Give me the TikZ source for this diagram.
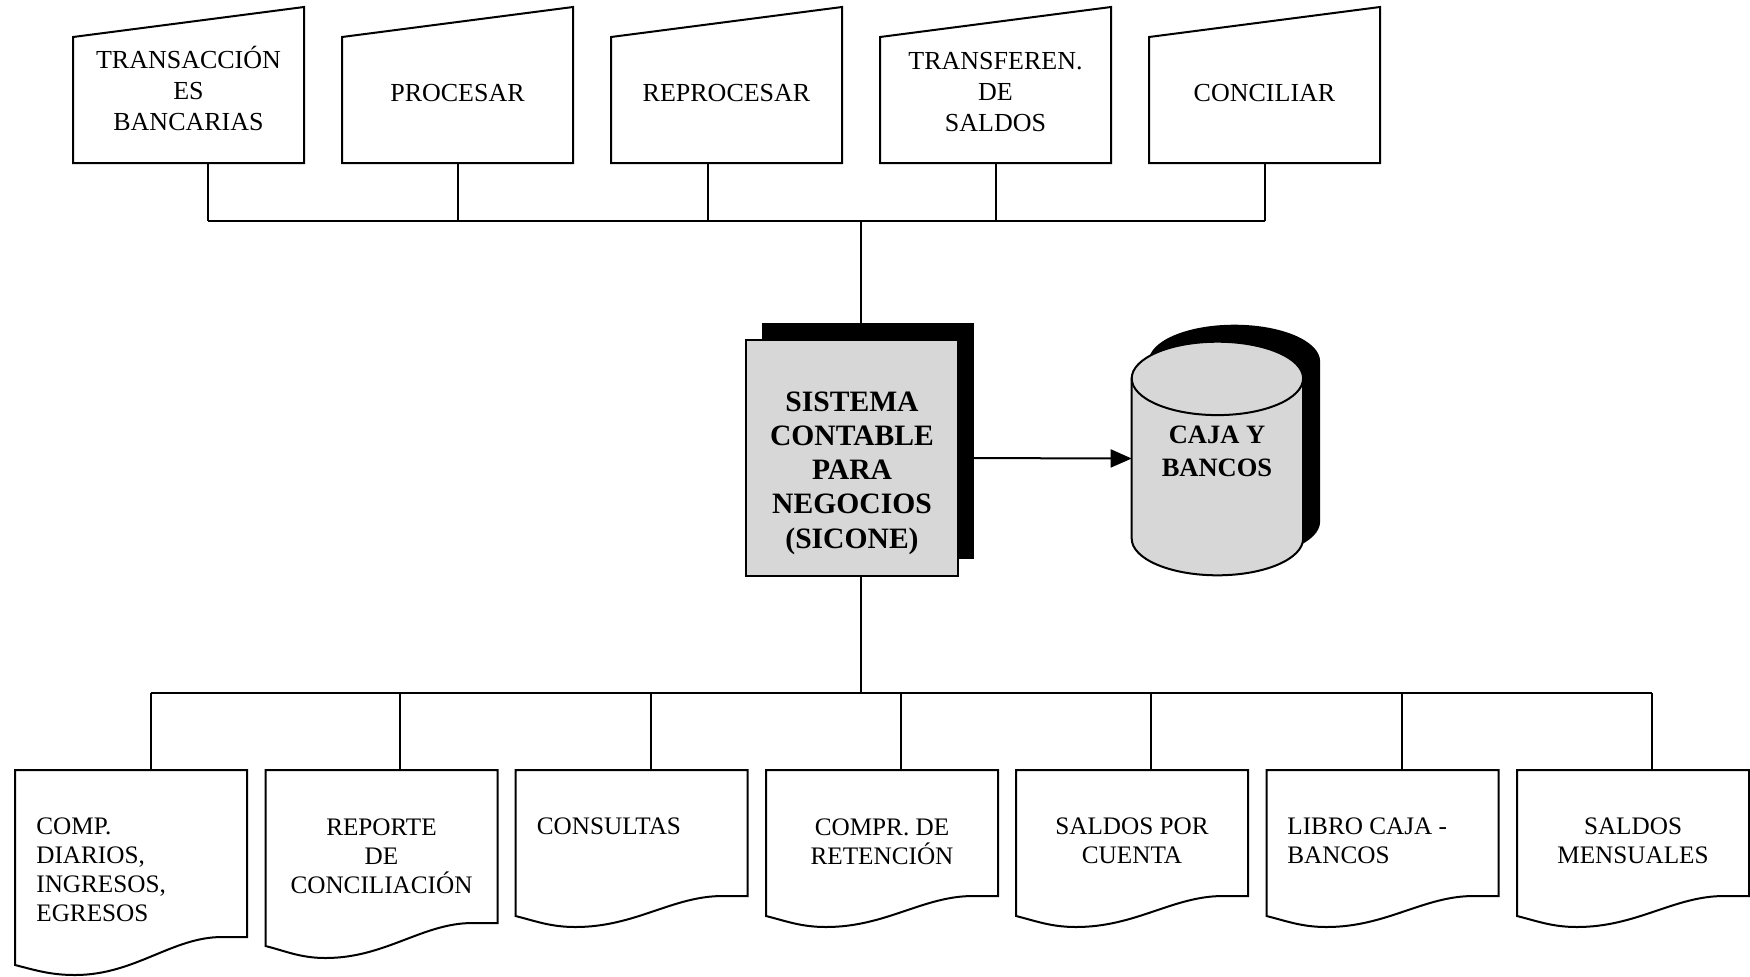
\documentclass[tikz,border=0pt]{standalone}
\usepackage{fontspec}
\setmainfont{Liberation Serif}
\usetikzlibrary{arrows.meta,shadows,calc}
\definecolor{boxgray}{RGB}{215,215,215}
\newcommand\mymanualbox[5]{% name, x centre, x of link, text y, text
  \node[topbox] (#1) at (#2,85) {};
  \draw[outline] (#1.south west) -- (#1.south east) -- (#1.north east) -- ($(#1.north west)+(0,30)$) -- cycle;
  \node[toptext] (#1t) at (#2,#4) {#5};
  \coordinate (#1b) at (#3,221);
  \draw[link] (#1.south -| #1b) -- (#1b);
}
\newcommand\mydocbox[6]{% name, x centre, body height, left drop, min drop, x of link
  \node[docbox, minimum height=#3*0.5pt] (#1) at (#2,{770+#3/2}) {};
  \draw[outline] (#1.north west) -- (#1.north east) -- (#1.south east) -- ++(-25,0)
     .. controls +(-50,0) and +(60,0) .. ++(-147,#5)
     .. controls +(-25,0) and +(20,5) .. ++(-60,{#4-#5})
     -- cycle;
  \coordinate (#1b) at (#6,693);
  \draw[link] (#1b) -- (#1b |- #1.north);
}
\begin{document}
\begin{tikzpicture}[x=0.5pt,y=-0.5pt,
  outline/.style={draw=black, line width=1pt, line join=miter},
  link/.style={draw=black, line width=1pt},
  inv/.style={inner sep=0pt, outer sep=0pt, draw=none},
  topbox/.style={inv, minimum width=115.5pt, minimum height=78pt},
  docbox/.style={inv, minimum width=116pt},
  toptext/.style={align=center, inner sep=0pt, font=\fontsize{13}{15.5}\selectfont},
  doctext/.style={inner sep=0pt, font=\fontsize{12.6}{14.5}\selectfont},
  boldtext/.style={align=center, inner sep=0pt},
  sicbox/.style={draw=black, line width=1pt, fill=boxgray, inner sep=0pt, outer sep=0pt,
    minimum width=106pt, minimum height=118pt,
    drop shadow={fill=black, opacity=1, shadow xshift=8pt, shadow yshift=8.5pt}},
  arrowline/.style={draw=black, line width=1pt, -{Triangle[length=10.5pt,width=9pt]}}
]
\useasboundingbox (0,0) rectangle (1750,976);

% ---- top manual inputs ----
\mymanualbox{t1}{188.5}{208}{88.5}{TRANSACCIÓN\\ES\\BANCARIAS}
\mymanualbox{t2}{457.5}{457.5}{93}{PROCESAR}
\mymanualbox{t3}{726.5}{707.6}{93}{REPROCESAR}
\mymanualbox{t4}{995.5}{995.5}{92}{TRANSFEREN.\\DE\\SALDOS}
\mymanualbox{t5}{1264.5}{1264.5}{93}{CONCILIAR}
\coordinate (tbus) at (861,221);
\draw[link] (t1b) -- (t5b);

% ---- central system ----
\node[sicbox] (sic) at (852,458) {};
\node[boldtext, font=\bfseries\fontsize{14.8}{17.1}\selectfont] (sict) at (852,473)
  {SISTEMA\\CONTABLE\\PARA\\NEGOCIOS\\(SICONE)};
\draw[link] (tbus) -- (tbus |- sic.north);

% ---- database cylinder ----
\node[inv, minimum width=85.7pt, minimum height=116.8pt] (cyl) at (1217.4,458.5) {};
\begin{scope}[shift={(17,-17)}]
  \fill[black] (1131.7,378.4) -- (1131.7,538.6)
    arc[start angle=180,end angle=0,x radius=85.7,y radius=36.7]
    -- (1303.1,378.4)
    arc[start angle=0,end angle=-180,x radius=85.7,y radius=36.7] -- cycle;
\end{scope}
\draw[outline, fill=boxgray] (1131.7,378.4) -- (1131.7,538.6)
    arc[start angle=180,end angle=0,x radius=85.7,y radius=36.7]
    -- (1303.1,378.4)
    arc[start angle=0,end angle=-180,x radius=85.7,y radius=36.7] -- cycle;
\draw[outline] (1131.7,378.4) arc[start angle=180,end angle=0,x radius=85.7,y radius=36.7];
\node[boldtext, font=\bfseries\fontsize{13.25}{16.5}\selectfont] (cylt) at (1217,451.5)
  {CAJA Y\\BANCOS};

\draw[arrowline] (sic.east) -- (cyl.west);

% ---- output documents ----
\mydocbox{d1}{131}{167}{28}{38}{150.5}
\mydocbox{d2}{381.5}{153}{23}{35}{400}
\mydocbox{d3}{631.5}{126}{20}{31}{650.5}
\mydocbox{d4}{882}{126}{20}{31}{901}
\mydocbox{d5}{1132}{126}{20}{31}{1151}
\mydocbox{d6}{1382.5}{126}{20}{31}{1401.5}
\mydocbox{d7}{1633}{126}{20}{31}{1652}
\coordinate (dbus) at (861,693);
\draw[link] (d1b) -- (d7b);
\draw[link] (dbus |- sic.south) -- (dbus);

\node[doctext, align=left, anchor=west] (d1t) at (36,870) {COMP.\\DIARIOS,\\INGRESOS,\\EGRESOS};
\node[doctext, align=center] (d2t) at (381.5,856) {REPORTE\\DE\\CONCILIACIÓN};
\node[doctext, align=left, anchor=west] (d3t) at (536.5,826.7) {CONSULTAS};
\node[doctext, align=center] (d4t) at (882,842) {COMPR. DE\\RETENCIÓN};
\node[doctext, align=center] (d5t) at (1132,841) {SALDOS POR\\CUENTA};
\node[doctext, align=left, anchor=west] (d6t) at (1287,841) {LIBRO CAJA -\\BANCOS};
\node[doctext, align=center] (d7t) at (1633,841) {SALDOS\\MENSUALES};
\end{tikzpicture}
\end{document}
